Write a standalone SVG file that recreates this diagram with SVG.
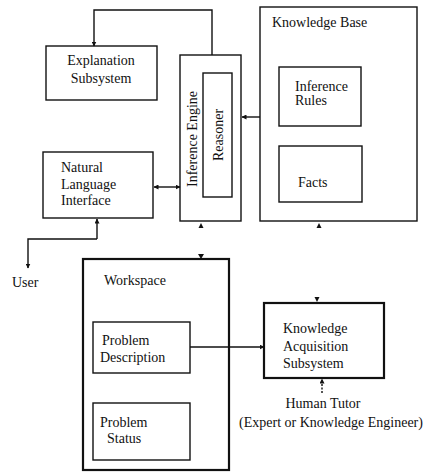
<svg xmlns="http://www.w3.org/2000/svg" width="429" height="472" viewBox="0 0 429 472">
<defs>
<style>
.box{fill:none;stroke:#111;stroke-width:1.4}
.thick{fill:none;stroke:#111;stroke-width:2.2}
.t{font-family:"Liberation Serif","Times New Roman",serif;font-size:14px;fill:#111}
.c{text-anchor:middle}
.ln{fill:none;stroke:#111;stroke-width:1.4}
.ah{fill:#111}
</style>
<marker id="arr" viewBox="0 0 10 10" refX="9" refY="5" markerWidth="5" markerHeight="5" orient="auto-start-reverse" markerUnits="userSpaceOnUse">
<path d="M0,0 L10,5 L0,10 z" fill="#111"/>
</marker>
</defs>
<rect width="429" height="472" fill="#fff"/>

<g id="explanation">
<rect class="box" x="46" y="46" width="111" height="54"/>
<text class="t c" x="101" y="65">Explanation</text>
<text class="t c" x="101" y="83">Subsystem</text>
</g>

<g id="inference-engine">
<rect class="box" x="180" y="55" width="61" height="166"/>
<text class="t c" transform="translate(197,139) rotate(-90)">Inference Engine</text>
</g>

<g id="reasoner">
<rect class="box" x="203" y="73" width="29" height="124"/>
<text class="t c" transform="translate(223,135) rotate(-90)">Reasoner</text>
</g>

<g id="knowledge-base">
<rect class="box" x="260" y="7" width="157" height="214"/>
<text class="t" x="272" y="27">Knowledge Base</text>
</g>

<g id="inference-rules">
<rect class="box" x="279" y="67" width="82" height="59"/>
<text class="t" x="295" y="91">Inference</text>
<text class="t" x="295" y="105">Rules</text>
</g>

<g id="facts">
<rect class="box" x="279" y="146" width="83" height="56"/>
<text class="t" x="298" y="187">Facts</text>
</g>

<g id="nli">
<rect class="box" x="43" y="152" width="110" height="66"/>
<text class="t" x="61" y="172">Natural</text>
<text class="t" x="61" y="189">Language</text>
<text class="t" x="61" y="205">Interface</text>
</g>

<g id="user">
<text class="t" x="12" y="287">User</text>
</g>

<g id="workspace">
<rect class="thick" x="83" y="259" width="146" height="211"/>
<text class="t" x="104" y="285">Workspace</text>
</g>

<g id="problem-description">
<rect class="box" x="93" y="322" width="97" height="51"/>
<text class="t" x="102" y="345">Problem</text>
<text class="t" x="100" y="362">Description</text>
</g>

<g id="problem-status">
<rect class="box" x="93" y="403" width="97" height="57"/>
<text class="t" x="100" y="427">Problem</text>
<text class="t" x="107" y="443">Status</text>
</g>

<g id="kas">
<rect class="thick" x="264" y="303" width="120" height="75"/>
<text class="t" x="283" y="333">Knowledge</text>
<text class="t" x="283" y="351">Acquisition</text>
<text class="t" x="283" y="368">Subsystem</text>
</g>

<g id="human-tutor">
<text class="t c" x="323" y="408">Human Tutor</text>
<text class="t c" x="331" y="427">(Expert or Knowledge Engineer)</text>
</g>

<g id="connectors">
<path class="ln" d="M212,55 V10 H94 V46" marker-end="url(#arr)"/>
<path class="ln" d="M260,117 H242" marker-end="url(#arr)"/>
<path class="ln" d="M154,187 H180" marker-start="url(#arr)" marker-end="url(#arr)"/>
<path class="ln" d="M97,239 V219" marker-end="url(#arr)"/>
<path class="ln" d="M97,239 H28 V268" marker-end="url(#arr)"/>
<path class="ln" d="M190,347 H264" marker-end="url(#arr)"/>
<path class="ln" d="M322,393 V379" stroke-dasharray="2,1.5" marker-end="url(#arr)"/>
<polygon class="ah" points="201,223 198.5,228 203.5,228"/>
<polygon class="ah" points="201,259 198,254 204,254"/>
<polygon class="ah" points="319,223 316.5,228 321.5,228"/>
<polygon class="ah" points="317,302 314.5,297 319.5,297"/>
</g>
</svg>
